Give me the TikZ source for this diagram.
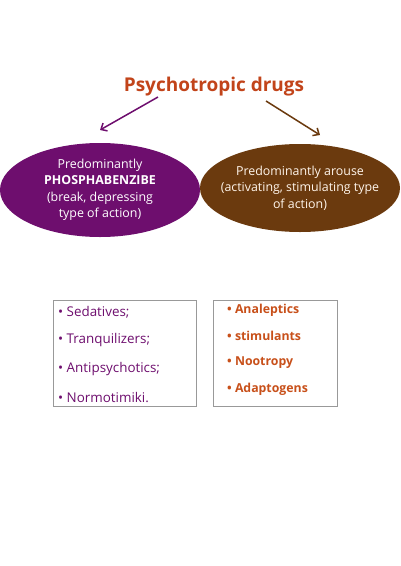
\documentclass[tikz,border=0pt]{standalone}
\usepackage{fontspec}
\setmainfont{Open Sans}
\usetikzlibrary{shapes.geometric,arrows.meta}
\definecolor{titlec}{HTML}{C2441A}
\definecolor{purp}{HTML}{6E0E6E}
\definecolor{brwn}{HTML}{6B3A0E}
\definecolor{orng}{HTML}{C8501A}
\begin{document}
\begin{tikzpicture}[x=1pt,y=-1pt,
  ell/.style={ellipse,inner sep=0pt},
  elltext/.style={text=white,align=center,inner sep=0pt,font=\fontsize{12.4}{16.5}\selectfont},
  listbox/.style={draw=gray!80,line width=0.6pt},
  itemL/.style={anchor=west,text=purp,font=\fontsize{13.4}{15}\selectfont,inner sep=0pt},
  itemR/.style={anchor=west,text=orng,font=\fontsize{12.3}{14}\bfseries\selectfont,inner sep=0pt},
  arr/.style={-{Straight Barb[length=5pt,width=9pt]},line width=1.5pt}]
\useasboundingbox (0,0) rectangle (400,566);
\fill[white] (0,0) rectangle (400,566);
\node[text=titlec,font=\fontsize{19}{22}\bfseries\selectfont] (title) at (214,87) {Psychotropic drugs};
\node[ell,fill=purp,minimum width=200pt,minimum height=94pt] (left) at (100,190) {};
\node[elltext] (lefttext) at (left.center)
  {Predominantly\\\textbf{PHOSPHABENZIBE}\\(break, depressing\\type of action)};
\node[ell,fill=brwn,minimum width=200pt,minimum height=88pt] (right) at (300,188) {};
\node[elltext,text=white!92!orange] (righttext) at (right.center)
  {Predominantly arouse\\(activating, stimulating type\\of action)};
\coordinate (la) at (158,97);
\coordinate (lb) at (100,130);
\coordinate (ra) at (266,101);
\coordinate (rb) at (320,135);
\draw[arr,draw=purp] (la) -- (lb);
\draw[arr,draw=brwn] (ra) -- (rb);
\node[listbox,minimum width=143pt,minimum height=106pt,inner sep=0pt] (boxL) at (124.5,353) {};
\node[listbox,minimum width=124pt,minimum height=106pt,inner sep=0pt] (boxR) at (275,353) {};
\node[itemL] (l1) at (58,312) {• Sedatives;};
\node[itemL] (l2) at (58,340) {• Tranquilizers;};
\node[itemL] (l3) at (58,369) {• Antipsychotics;};
\node[itemL] (l4) at (58,397) {• Normotimiki.};
\node[itemR] (r1) at (227,310) {• Analeptics};
\node[itemR] (r2) at (227,336) {• stimulants};
\node[itemR] (r3) at (227,363) {• Nootropy};
\node[itemR] (r4) at (227,389) {• Adaptogens};
\end{tikzpicture}
\end{document}
